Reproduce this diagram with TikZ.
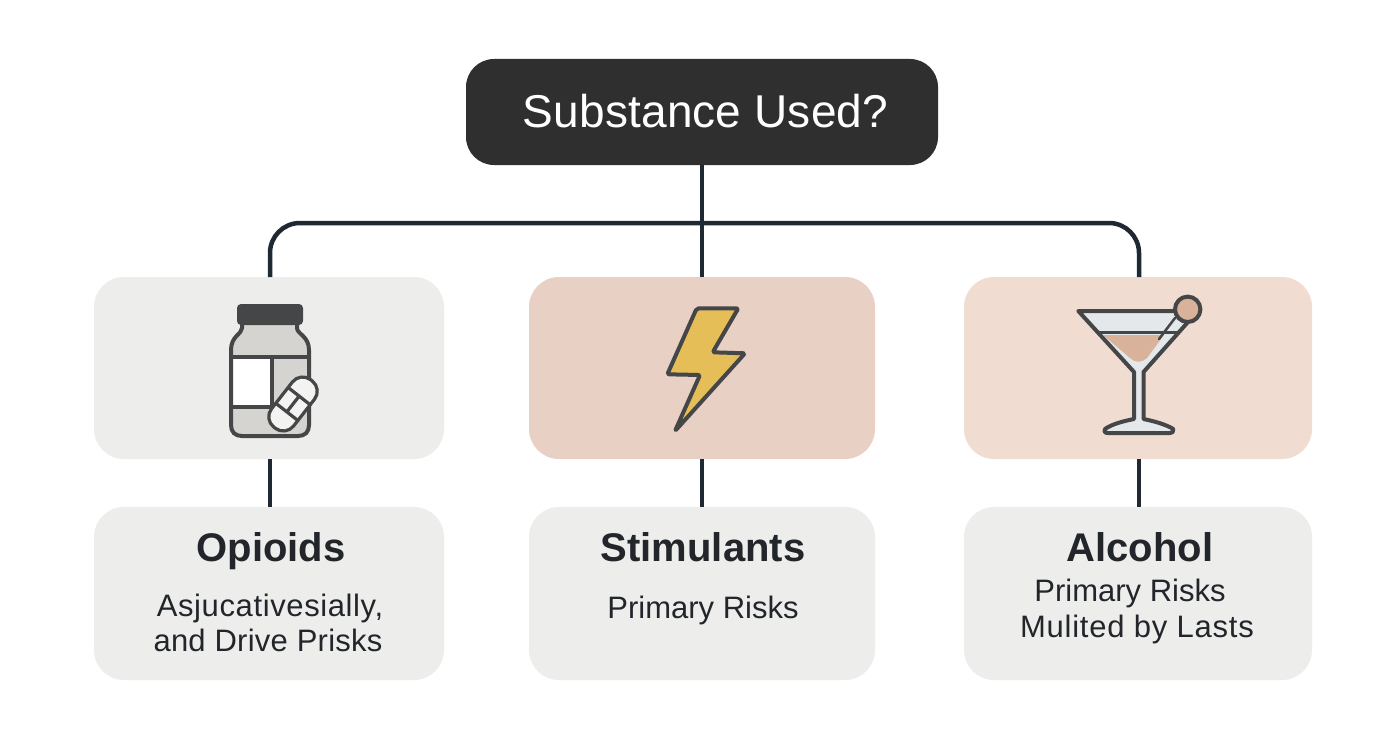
\documentclass[tikz,border=0pt]{standalone}
\usepackage{fontspec}
\setmainfont{Liberation Sans}
\definecolor{rootc}{HTML}{2F2F2F}
\definecolor{linec}{HTML}{1F2933}
\definecolor{greyb}{HTML}{EDEDEC}
\definecolor{pinka}{HTML}{E8D0C4}
\definecolor{pinkb}{HTML}{F0DCD1}
\definecolor{inkc}{HTML}{444648}
\definecolor{jarc}{HTML}{D5D4D0}
\definecolor{pillc}{HTML}{F3F3F1}
\definecolor{boltc}{HTML}{E5BE57}
\definecolor{glassc}{HTML}{E4E8EA}
\definecolor{drinkc}{HTML}{D9B29C}
\definecolor{textc}{HTML}{22262B}
\tikzset{
  box/.style={rectangle,rounded corners=30pt,inner sep=0pt,outer sep=0pt,minimum height=#1},
  rootbox/.style={rectangle,rounded corners=28pt,fill=rootc,inner sep=0pt,outer sep=0pt,minimum width=472pt,minimum height=106pt},
  wire/.style={draw=linec,line width=4.5pt},
  icon/.style={draw=inkc,line width=4pt,line join=round,line cap=round},
  thinicon/.style={draw=inkc,line width=3.2pt,line join=round,line cap=round},
  headtxt/.style={anchor=base,inner sep=0pt,text=textc,font=\fontsize{40}{44}\selectfont\bfseries},
  bodytxt/.style={anchor=base,inner sep=0pt,text=textc,font=\fontsize{31}{35}\selectfont},
}
\begin{document}
\begin{tikzpicture}[x=1pt,y=-1pt]
\useasboundingbox (0,0) rectangle (1392,752);
\fill[white] (0,0) rectangle (1392,752);
% boxes
\node[rootbox] (root) at (702,112) {};
\node[box=182pt,fill=greyb,minimum width=350pt] (a1) at (269,368) {};
\node[box=182pt,fill=pinka,minimum width=346pt] (a2) at (702,368) {};
\node[box=182pt,fill=pinkb,minimum width=348pt] (a3) at (1138,368) {};
\node[box=173pt,fill=greyb,minimum width=350pt] (b1) at (269,593.5) {};
\node[box=173pt,fill=greyb,minimum width=346pt] (b2) at (702,593.5) {};
\node[box=173pt,fill=greyb,minimum width=348pt] (b3) at (1138,593.5) {};
% connectors
\coordinate (bar) at (702,223);
\draw[wire] (root.south) -- (a2.north);
\draw[wire,rounded corners=30pt] ([xshift=1pt]a1.north) |- (bar) -| ([xshift=1pt]a3.north);
\draw[wire] ([xshift=1pt]a1.south) -- ([xshift=1pt]b1.north);
\draw[wire] (a2.south) -- (b2.north);
\draw[wire] ([xshift=1pt]a3.south) -- ([xshift=1pt]b3.north);
% texts
\node[anchor=base,inner sep=0pt,text=white,font=\fontsize{46}{50}\selectfont\addfontfeature{LetterSpace=0.4}] (t0) at (705.5,127) {Substance Used?};
\node[headtxt] (h1) at (271,561) {Opioids};
\node[headtxt] (h2) at (703,561) {Stimulants};
\node[headtxt] (h3) at (1140,561) {Alcohol};
\node[bodytxt] (l1) at (270,616) {\addfontfeature{LetterSpace=2}Asjucativesially,};
\node[bodytxt] (l2) at (268,651) {\addfontfeature{LetterSpace=0.8}and Drive Prisks};
\node[bodytxt] (l3) at (703,618) {Primary Risks};
\node[bodytxt] (l4) at (1130,601) {Primary Risks};
\node[bodytxt] (l5) at (1137,637) {\addfontfeature{LetterSpace=2.4}Mulited by Lasts};
% bottle
\fill[jarc] (242,324) -- (297,324) -- (297,328) .. controls (297,334) and (310,336) .. (310,350) -- (310,425) .. controls (310,432) and (305,436) .. (298,436) -- (242,436) .. controls (235,436) and (230,432) .. (230,425) -- (230,350) .. controls (230,336) and (242,334) .. (242,328) -- cycle;
\fill[white] (232,358) rectangle (272,407);
\draw[icon] (242,324) -- (242,328) .. controls (242,334) and (231,336) .. (231,350) -- (231,425) .. controls (231,432) and (235,436) .. (242,436) -- (298,436) .. controls (305,436) and (309,432) .. (309,425) -- (309,350) .. controls (309,336) and (297,334) .. (297,328) -- (297,324);
\draw[thinicon] (231,357) -- (309,357);
\draw[thinicon] (231,407) -- (272,407);
\draw[thinicon] (272,357) -- (272,407);
\fill[inkc,rounded corners=4pt] (237,304) rectangle (303,325);
\begin{scope}[shift={(293,404)},rotate=52]
  \draw[thinicon,fill=pillc,rounded corners=13pt] (-30,-14) rectangle (30,14);
  \draw[thinicon] (-10,-14) -- (-10,14) (10,-14) -- (10,14) (-10,0) -- (10,0);
\end{scope}
% bolt
\draw[icon,fill=boltc,rounded corners=2pt] (696.7,308.3) -- (738.3,308.3) -- (712.7,352.3) -- (745,353.3) -- (675,431) -- (700,375) -- (667.3,374.3) -- cycle;
% martini
\draw[icon,fill=glassc] (1105,429) .. controls (1112,424) and (1124,421) .. (1134,419) -- (1134,372) -- (1078.3,311) -- (1178,311) -- (1188,322) -- (1143.5,372) -- (1143.5,419) .. controls (1153,421) and (1165,424) .. (1173.3,429) .. controls (1174,432) and (1172,433) .. (1170,433) -- (1108,433) .. controls (1105,433) and (1104,432) .. (1105,429) -- cycle;
\fill[drinkc] (1103,335) -- (1164,335) -- (1147,358) .. controls (1142,363) and (1135,363) .. (1130,358) -- cycle;
\draw[thinicon] (1100,332.7) -- (1178,332.7);
\draw[thinicon,line width=2.5pt] (1175,318) -- (1159,339);
\draw[icon,fill=drinkc] (1187.7,309.3) circle (12.7);
\end{tikzpicture}
\end{document}
